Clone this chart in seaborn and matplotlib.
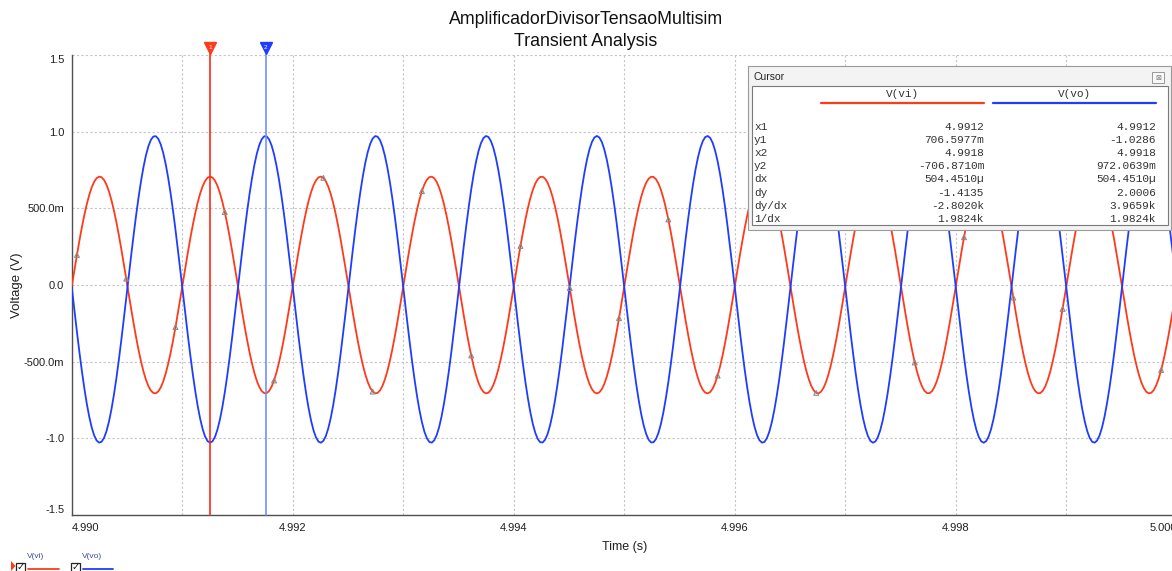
import numpy as np
import pandas as pd
import seaborn as sns
import matplotlib.pyplot as plt
from matplotlib.patches import Rectangle, Polygon
from matplotlib.lines import Line2D

# signal parameters read from the cursor window
FREQ = 1000.0           # Hz
VI_AMP = 0.7071         # V(vi) amplitude
VO_AMP = 1.0003         # V(vo) amplitude (inverted)
VO_OFFSET = -0.0283     # V(vo) dc shift
T_START = 4.990
T_END = 5.000
DT = 0.000446 / 20      # simulation step (markers every 20 points)

time = np.arange(T_START, T_END + DT / 2, DT)
v_vi = VI_AMP * np.sin(2 * np.pi * FREQ * (time - T_START))
v_vo = -VO_AMP * np.sin(2 * np.pi * FREQ * (time - T_START)) + VO_OFFSET

cursor_x = [4.99125, 4.991754]
x_ticks = [4.990, 4.992, 4.994, 4.996, 4.998, 5.000]
x_labels = ["4.990", "4.992", "4.994", "4.996", "4.998", "5.000"]
y_ticks = [-1.5, -1.0, -0.5, 0.0, 0.5, 1.0, 1.5]
y_labels = ["-1.5", "-1.0", "-500.0m", "0.0", "500.0m", "1.0", "1.5"]

row_names = ["x1", "y1", "x2", "y2", "dx", "dy", "dy/dx", "1/dx"]
vi_values = ["4.9912", "706.5977m", "4.9918", "-706.8710m", "504.4510\u00b5", "-1.4135", "-2.8020k", "1.9824k"]
vo_values = ["4.9912", "-1.0286", "4.9918", "972.0639m", "504.4510\u00b5", "2.0006", "3.9659k", "1.9824k"]

RED = "#ff3a1a"
BLUE = "#1f3dff"

df = pd.DataFrame({"time": time, "vi": v_vi, "vo": v_vo})

sns.set_style("white")
plt.rcParams["font.family"] = ["Liberation Sans", "DejaVu Sans"]

W, H = 1172, 571
fig = plt.figure(figsize=(W / 100, H / 100), dpi=100)


def fx(x):
    return x / W


def fy(y):
    return 1 - y / H


# axes: x=4.990 at px 72, x=5.000 at px 1177 (past the right edge)
ax = fig.add_axes([fx(72), fy(515), (1177 - 72) / W, 460 / H])

sns.lineplot(data=df, x="time", y="vi", color=RED, lw=1.3, ax=ax, sort=False, estimator=None, zorder=3)
sns.lineplot(data=df, x="time", y="vo", color=BLUE, lw=1.3, ax=ax, sort=False, estimator=None, zorder=3)
marks = df.iloc[2::20]
sns.scatterplot(data=marks, x="time", y="vi", marker="^", s=12, facecolor="none",
                edgecolor="#8c8c8c", linewidth=0.8, ax=ax, zorder=4)

ax.set_xlim(T_START, T_END)
ax.set_ylim(-1.5, 1.5)
ax.set_xticks(x_ticks)
ax.set_xticklabels(x_labels)
ax.set_xticks(np.arange(4.991, 5.0, 0.002), minor=True)
ax.set_yticks(y_ticks)
ax.set_yticklabels(y_labels)
ax.tick_params(axis="both", which="both", direction="out", length=3, width=0.8,
               color="#404040", labelsize=8, labelcolor="#202020", pad=2.5)
ax.tick_params(axis="x", pad=3)
for lab in ax.get_xticklabels():
    if lab.get_text() == "4.990":
        lab.set_ha("left")
    if lab.get_text() == "5.000":
        lab.set_ha("right")
for lab in ax.get_yticklabels():
    if lab.get_text() == "1.5":
        lab.set_va("top")
    if lab.get_text() == "-1.5":
        lab.set_va("bottom")

ax.grid(True, which="both", color="#c4c4c4", linestyle=(0, (2, 2)), linewidth=0.8)
for s in ["top", "right"]:
    ax.spines[s].set_visible(False)
for s in ["left", "bottom"]:
    ax.spines[s].set_color("#505050")
    ax.spines[s].set_linewidth(1.0)

ax.set_xlabel("Time (s)", fontsize=9, color="#202020")
ax.set_ylabel("Voltage (V)", fontsize=9.5, color="#202020")
ax.xaxis.set_label_coords(0.5, -(547 - 515) / 460)
ax.xaxis.label.set_va("center")
ax.yaxis.set_label_coords(-(72 - 17) / (1177 - 72), 0.5)
ax.yaxis.label.set_va("center")

# cursors
for cx, col, num in [(cursor_x[0], "#ff2a12", "1"), (cursor_x[1], "#7090ff", "2")]:
    ax.plot([cx, cx], [-1.5, 1.545], color=col, lw=1.2, clip_on=False, zorder=5)
    mcol = "#ff3a1a" if num == "1" else "#1f3dff"
    ax.plot([cx], [1.545], marker="v", ms=8, color=mcol, clip_on=False, zorder=6)
    ax.text(cx, 1.552, num, color="white", fontsize=4.5, ha="center", va="center", zorder=7, clip_on=False)

# title
fig.text(0.5, fy(20), "AmplificadorDivisorTensaoMultisim", ha="center", va="center", fontsize=12.8, color="#111111")
fig.text(0.5, fy(41), "Transient Analysis", ha="center", va="center", fontsize=12.8, color="#111111")

# cursor window
fig.patches.append(Rectangle((fx(748), fy(230)), (1171 - 748) / W, (230 - 66) / H, transform=fig.transFigure,
                             facecolor="#f3f3f3", edgecolor="#9a9a9a", lw=0.8, zorder=10))
fig.patches.append(Rectangle((fx(752), fy(225)), (1168 - 752) / W, (225 - 86) / H, transform=fig.transFigure,
                             facecolor="white", edgecolor="#7a7a7a", lw=0.8, zorder=11))
fig.patches.append(Rectangle((fx(1152), fy(83)), 12 / W, 11 / H, transform=fig.transFigure,
                             facecolor="#f8f8f8", edgecolor="#9a9a9a", lw=0.7, zorder=11))
fig.text(fx(1158), fy(77.5), "\u22a0", fontsize=5, ha="center", va="center", color="#777777", zorder=12,
         family=["DejaVu Sans"])
fig.text(fx(754), fy(77), "Cursor", fontsize=7.5, ha="left", va="center", color="#222222", zorder=12)

mono = ["Liberation Mono", "DejaVu Sans Mono"]
fig.text(fx(902), fy(94), "V(vi)", fontsize=8, ha="center", va="center", color="#333333", family=mono, zorder=12)
fig.text(fx(1074), fy(94), "V(vo)", fontsize=8, ha="center", va="center", color="#333333", family=mono, zorder=12)
fig.lines.append(Line2D([fx(821), fx(984)], [fy(103), fy(103)], transform=fig.transFigure, color=RED, lw=1.6, zorder=12))
fig.lines.append(Line2D([fx(993), fx(1156)], [fy(103), fy(103)], transform=fig.transFigure, color=BLUE, lw=1.6, zorder=12))
for i, name in enumerate(row_names):
    yy = fy(127 + i * 13.1)
    fig.text(fx(754), yy, name, fontsize=8, ha="left", va="center", color="#333333", family=mono, zorder=12)
    fig.text(fx(984), yy, vi_values[i], fontsize=8, ha="right", va="center", color="#333333", family=mono, zorder=12)
    fig.text(fx(1156), yy, vo_values[i], fontsize=8, ha="right", va="center", color="#333333", family=mono, zorder=12)

# bottom legend
fig.patches.append(Polygon([[fx(11), fy(561)], [fx(11), fy(571)], [fx(15.5), fy(566)]], closed=True,
                           transform=fig.transFigure, facecolor=RED, edgecolor="none", zorder=10))
for bx, name, col, lx0, lx1 in [(16, "V(vi)", RED, 28, 59), (71, "V(vo)", BLUE, 83, 113)]:
    fig.patches.append(Rectangle((fx(bx), fy(572)), 9 / W, 9 / H, transform=fig.transFigure,
                                 facecolor="white", edgecolor="#222222", lw=0.9, zorder=10))
    fig.text(fx(bx + 4.5), fy(567), "\u2713", fontsize=7, ha="center", va="center", color="#111111",
             family=["DejaVu Sans"], zorder=11)
    fig.text(fx(lx0 - 1), fy(557), name, fontsize=6, ha="left", va="center", color="#3a4c9a", zorder=11)
    fig.lines.append(Line2D([fx(lx0), fx(lx1)], [fy(569), fy(569)], transform=fig.transFigure, color=col, lw=1.3, zorder=11))

fig.savefig("out.png", dpi=100)
